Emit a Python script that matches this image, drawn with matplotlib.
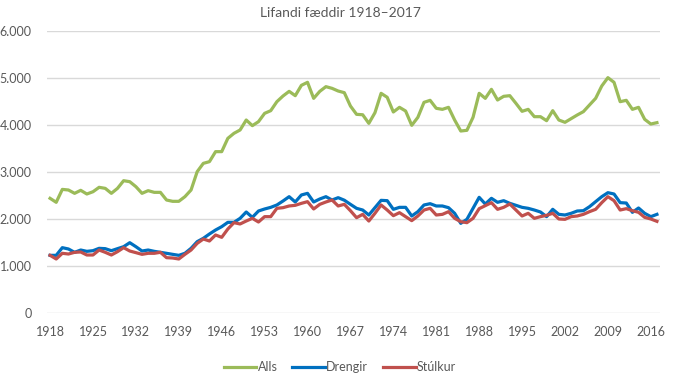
import matplotlib
matplotlib.use('Agg')
import matplotlib.pyplot as plt
import matplotlib.ticker as mticker
import numpy as np

# Lifandi fæddir 1918-2017
years = np.arange(1918, 2018)

alls = [2440, 2355, 2630, 2617, 2546, 2610, 2532, 2580, 2674, 2652,
        2546, 2652, 2815, 2794, 2688, 2546, 2603, 2567, 2567, 2404,
        2376, 2376, 2475, 2617, 3007, 3184, 3220, 3433, 3433, 3716,
        3823, 3894, 4106, 3986, 4071, 4248, 4305, 4496, 4617, 4716,
        4624, 4844, 4908, 4567, 4716, 4816, 4780, 4723, 4688, 4404,
        4227, 4218, 4035, 4262, 4674, 4589, 4277, 4376, 4298, 3993,
        4163, 4482, 4525, 4355, 4333, 4376, 4106, 3872, 3887, 4163,
        4674, 4567, 4759, 4532, 4610, 4624, 4461, 4291, 4333, 4177,
        4177, 4092, 4305, 4106, 4057, 4135, 4213, 4284, 4426, 4567,
        4830, 5007, 4908, 4496, 4525, 4333, 4376, 4121, 4021, 4050]

drengir = [1227, 1227, 1390, 1362, 1291, 1340, 1312, 1326, 1376, 1369,
           1326, 1369, 1411, 1496, 1411, 1319, 1340, 1312, 1291, 1270,
           1248, 1227, 1270, 1376, 1518, 1589, 1681, 1766, 1837, 1929,
           1929, 2014, 2149, 2035, 2170, 2213, 2248, 2298, 2383, 2475,
           2362, 2511, 2546, 2362, 2426, 2475, 2404, 2454, 2400, 2312,
           2227, 2191, 2085, 2241, 2397, 2390, 2206, 2248, 2248, 2064,
           2156, 2298, 2326, 2277, 2277, 2241, 2121, 1908, 1993, 2227,
           2461, 2319, 2440, 2355, 2390, 2333, 2291, 2248, 2227, 2191,
           2149, 2050, 2206, 2099, 2085, 2121, 2170, 2177, 2262, 2369,
           2475, 2560, 2532, 2348, 2340, 2142, 2234, 2121, 2050, 2099]

stulkur = [1227, 1149, 1270, 1255, 1291, 1298, 1234, 1234, 1340, 1291,
           1234, 1305, 1390, 1319, 1284, 1248, 1270, 1270, 1291, 1177,
           1170, 1149, 1248, 1340, 1482, 1574, 1532, 1660, 1610, 1787,
           1922, 1894, 1957, 2014, 1936, 2050, 2050, 2227, 2241, 2277,
           2291, 2333, 2369, 2213, 2312, 2362, 2404, 2277, 2312, 2177,
           2028, 2099, 1957, 2121, 2298, 2191, 2071, 2135, 2050, 1965,
           2064, 2191, 2227, 2085, 2099, 2156, 2014, 1943, 1922, 2014,
           2220, 2284, 2348, 2206, 2248, 2319, 2191, 2064, 2121, 2014,
           2050, 2078, 2121, 2000, 1993, 2050, 2064, 2099, 2156, 2206,
           2348, 2475, 2390, 2191, 2220, 2177, 2142, 2035, 2000, 1950]

tick_years = list(range(1918, 2018, 7))

plt.rcParams['font.family'] = ['Lato', 'DejaVu Sans']
txt = '#595959'

fig = plt.figure(figsize=(6.8, 3.78), dpi=100)
ax = fig.add_axes([47 / 680, 1 - 313 / 378, 613 / 680, 282 / 378])

ax.plot(years, alls, color='#9BBB59', lw=2.3, label='Alls', solid_joinstyle='round')
ax.plot(years, drengir, color='#0070C0', lw=2.3, label='Drengir', solid_joinstyle='round')
ax.plot(years, stulkur, color='#C0504D', lw=2.3, label='Stúlkur', solid_joinstyle='round')

ax.set_xlim(1917.5, 2017.5)
ax.set_ylim(0, 6000)
ax.set_yticks(range(0, 6001, 1000))
ax.yaxis.set_major_formatter(mticker.FuncFormatter(lambda v, p: f'{int(v):,}'.replace(',', '.')))
ax.set_xticks(tick_years)
ax.grid(axis='y', color='#D9D9D9', lw=1)
ax.set_axisbelow(True)
for s in ax.spines.values():
    s.set_visible(False)
ax.tick_params(axis='both', length=0, labelsize=9, labelcolor=txt)
ax.tick_params(axis='y', pad=11)
ax.tick_params(axis='x', pad=9)

fig.text(0.5, 1 - 13 / 378, 'Lifandi fæddir 1918–2017', ha='center', va='center',
         fontsize=10, color=txt)

fig.legend(loc='center', bbox_to_anchor=(0.5, 1 - 367 / 378), ncol=3, frameon=False,
           fontsize=9, labelcolor=txt, handlelength=2.6, handletextpad=0.1,
           columnspacing=1.2)

fig.savefig('out.png', dpi=100)
